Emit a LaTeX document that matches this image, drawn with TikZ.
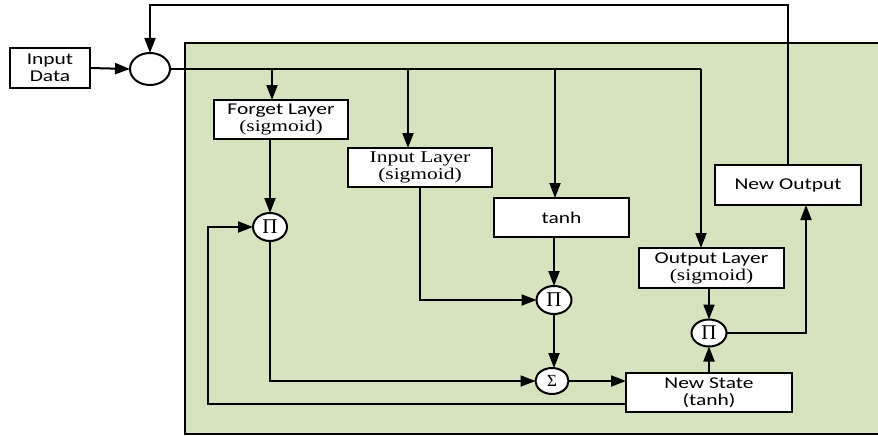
\documentclass[tikz,border=0pt]{standalone}
\usepackage{fontspec}
\setmainfont{Carlito}[FakeStretch=1.3]
\newfontfamily\serifst{Liberation Serif}[FakeStretch=1.3]
\newfontfamily\greekf{Liberation Serif}
\usetikzlibrary{arrows.meta,shapes.geometric,calc}
\definecolor{cellgreen}{HTML}{D7E3BE}
\begin{document}
\begin{tikzpicture}[x=1pt,y=-1pt,
  line width=2pt,
  every node/.style={inner sep=0pt, outer sep=0pt},
  box/.style={draw, fill=white, line width=2.2pt, align=center, font=\fontsize{16.5}{19}\selectfont},
  op/.style={draw, fill=white, ellipse, line width=2pt, font=\greekf\fontsize{21}{21}\selectfont},
  arr/.style={-{Triangle[length=15pt,width=11pt]}}]
\useasboundingbox (0,0) rectangle (878,436);
\fill[cellgreen] (185,43) rectangle (884,434);
\draw[line width=2pt] (884,43) -- (185,43) -- (185,434) -- (884,434);

\node[box, minimum width=80pt, minimum height=40pt] (inp) at (50,68) {Input\\[-2pt]Data};
\node[draw, fill=white, ellipse, line width=2pt, minimum width=40pt, minimum height=32pt] (join) at (150,69) {};
\node[box, minimum width=134pt, minimum height=39pt] (forget) at (281,119.5) {Forget Layer\\[-2pt]{\serifst(sigmoid)}};
\node[box, minimum width=144pt, minimum height=39pt] (inl) at (420,167.5) {{\serifst Input Layer}\\[-2pt]{\serifst(sigmoid)}};
\node[box, minimum width=135pt, minimum height=39pt] (tanh) at (561.5,217.5) {tanh};
\node[box, minimum width=145pt, minimum height=40pt] (outl) at (711.5,268) {Output Layer\\[-2pt]{\serifst(sigmoid)}};
\node[box, minimum width=146pt, minimum height=40pt] (newout) at (788,185) {New Output};
\node[box, minimum width=166pt, minimum height=39pt] (newst) at (709,392.5) {New State\\[-2pt](tanh)};

\node[op, minimum width=34pt, minimum height=28pt] (p1) at (270,227) {Π};
\node[op, minimum width=35pt, minimum height=28pt] (p2) at (554,300) {Π};
\node[op, minimum width=33pt, minimum height=26pt, font=\greekf\fontsize{17}{17}\selectfont] (sig) at (552,381) {Σ};
\node[op, minimum width=35pt, minimum height=27pt] (p3) at (709,333) {Π};

\coordinate (top) at (150,5);
\coordinate (bus) at (701,69);
\coordinate (loopx) at (208,404);
\coordinate (outx) at (806,333);

% input to join
\draw[arr] (inp.east) -- (join.west);
% main bus
\draw (join.east) -- (bus);
\draw[arr] (bus) -- (bus |- outl.north);
\draw[arr] (272,69) -- (272,0 |- forget.north);
\draw[arr] (408,69) -- (408,0 |- inl.north);
\draw[arr] (555,69) -- (555,0 |- tanh.north);
% feedback from new output
\draw[arr] (788,0 |- newout.north) -- (788,5) -- (top) -- (join.north);
% forget to p1
\draw[arr] (p1 |- forget.south) -- (p1.north);
% p1 to sigma
\draw[arr] (p1.south) |- (sig.west);
% state loop
\draw[arr] (newst.west |- loopx) -- (loopx) |- (p1.west);
% input layer to p2
\draw[arr] (420,0 |- inl.south) |- (p2.west);
% tanh to p2
\draw[arr] (p2 |- tanh.south) -- (p2.north);
% p2 to sigma
\draw[arr] (p2.south) -- (p2.south |- sig.north);
% sigma to new state
\draw[arr] (sig.east) -- (newst.west |- sig.east);
% output layer to p3
\draw[arr] (p3 |- outl.south) -- (p3.north);
% new state to p3
\draw[arr] (p3 |- newst.north) -- (p3.south);
% p3 to new output
\draw[arr] (p3.east) -- (outx) -- (outx |- newout.south);
\end{tikzpicture}
\end{document}
